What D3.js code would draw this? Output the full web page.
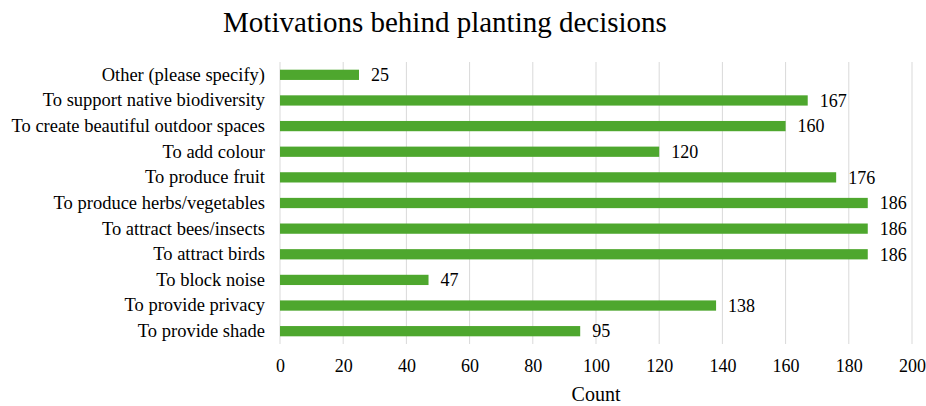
<!DOCTYPE html>
<html><head><meta charset="utf-8">
<script src="https://cdn.jsdelivr.net/npm/d3@7"></script>
<style>body{margin:0;background:#fff}text{font-family:"Liberation Serif","Times New Roman",serif;fill:#000}</style>
</head><body>
<svg id="c" width="926" height="406"></svg>
<script>
const categories = ["Other (please specify)","To support native biodiversity","To create beautiful outdoor spaces","To add colour","To produce fruit","To produce herbs/vegetables","To attract bees/insects","To attract birds","To block noise","To provide privacy","To provide shade"];
const values = [25,167,160,120,176,186,186,186,47,138,95];
const ticks = [0,20,40,60,80,100,120,140,160,180,200];
const title = "Motivations behind planting decisions";
const xTitle = "Count";

const FF = '"Liberation Serif","Times New Roman",serif';
const svg = d3.select("#c");
const m = {l:280, r:14, t:62, b:62};
const W = 926, H = 406;
const x = d3.scaleLinear().domain([0,200]).range([m.l, W - m.r]);
const y = d3.scaleBand().domain(categories).range([m.t, H - m.b]).paddingInner(0.6).paddingOuter(0.3);

svg.append("text").attr("x", 445).attr("y", 32).attr("text-anchor","middle")
  .attr("font-family", FF).style("font-size","29px").text(title);

const grid = svg.append("g");
grid.selectAll("line").data(ticks).join("line")
  .attr("x1", d=>x(d)).attr("x2", d=>x(d)).attr("y1", m.t).attr("y2", H - m.b)
  .attr("stroke", "#d9d9d9").attr("stroke-width", 1);

const ax = svg.append("g").attr("transform", `translate(0,${H - m.b})`)
  .call(d3.axisBottom(x).tickValues(ticks).tickSize(0).tickPadding(15));
ax.attr("font-family", FF).attr("font-size", 18);
ax.select(".domain").remove();
ax.selectAll("text").style("font-size","18px");

const ay = svg.append("g").attr("transform", `translate(${m.l},0)`)
  .call(d3.axisLeft(y).tickSize(0).tickPadding(15));
ay.attr("font-family", FF).attr("font-size", 18);
ay.select(".domain").remove();
ay.selectAll("text").style("font-size","18.5px");

svg.append("g").selectAll("rect").data(values).join("rect")
  .attr("x", x(0)).attr("y", (d,i)=>y(categories[i]))
  .attr("width", d=>x(d)-x(0)).attr("height", y.bandwidth())
  .attr("fill", "#4ea72e");

svg.append("g").attr("font-family", FF).selectAll("text").data(values).join("text")
  .attr("x", d=>x(d)+12).attr("y", (d,i)=>y(categories[i]) + y.bandwidth()/2)
  .attr("dy","0.35em").style("font-size","18px").text(d=>d);

svg.append("text").attr("x", (x(0)+x(200))/2).attr("y", 401).attr("text-anchor","middle")
  .attr("font-family", FF).style("font-size","20px").text(xTitle);
</script>
</body></html>
